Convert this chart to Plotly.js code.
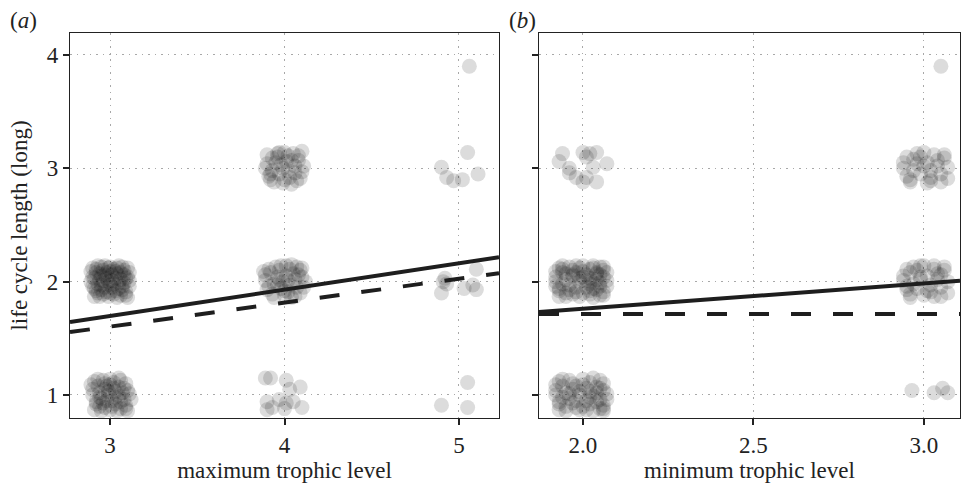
<!DOCTYPE html>
<html>
<head>
<meta charset="utf-8">
<script src="https://cdn.plot.ly/plotly-3.0.1.min.js"></script>
<style>html,body{margin:0;padding:0;background:#fff;}#chart{width:961px;height:486px;}</style>
</head>
<body>
<div id="chart"></div>
<script>
// ---------- Panel (a): maximum trophic level vs life cycle length (jittered points) ----------
const a_3_2 = [[2.90,2.12],[2.95,2.05],[3.02,1.98],[3.08,2.10],[2.93,1.90],[3.00,2.13],[3.06,1.88],[2.97,1.95],[3.11,2.01],[2.89,2.00],
[3.04,2.07],[2.92,2.08],[2.99,1.87],[3.07,1.96],[2.95,2.13],[3.10,2.12],[2.91,1.94],[3.03,1.92],[2.98,2.03],[3.05,2.14],
[2.94,1.87],[3.09,1.91],[2.96,2.10],[3.01,2.06],[2.90,2.04],[3.06,2.02],[2.93,1.98],[3.00,1.90],[3.08,2.06],[2.97,2.14],
[3.02,2.11],[2.92,1.92],[3.11,1.96],[2.99,2.00],[3.04,1.86],[2.89,2.09],[3.07,2.13],[2.95,1.97],[3.01,1.95],[3.10,2.04],
[2.94,2.02],[3.05,1.99],[2.91,1.87],[2.98,2.08],[3.03,2.03],[3.09,1.88],[2.96,1.89],[3.00,2.09],[3.06,2.08],[2.93,2.14],
[3.02,1.89],[2.90,1.96],[3.08,1.99],[2.97,2.06],[3.04,2.12],[2.95,1.93],[3.11,2.08],[2.99,2.12],[3.07,1.93],[2.92,2.11],
[3.01,2.01],[2.94,2.07],[3.05,1.94],[2.98,1.91],[3.10,1.86],[2.91,2.03],[3.03,2.09],[2.96,2.01],[3.09,2.03],[3.00,1.97]];
const a_3_1 = [[2.91,1.12],[2.97,1.05],[3.03,0.98],[3.09,1.10],[2.94,0.90],[3.00,1.14],[3.06,0.88],[2.98,0.95],[3.11,1.01],[2.90,1.00],
[3.05,1.07],[2.93,1.08],[3.00,0.87],[3.08,0.96],[2.96,1.13],[3.10,0.86],[2.92,0.94],[3.03,0.92],[2.99,1.03],[3.05,1.15],
[2.95,0.86],[3.09,0.91],[2.97,1.10],[3.02,1.06],[2.90,1.05],[3.07,1.02],[2.94,0.98],[3.01,0.90],[3.08,1.06],[2.97,0.89],
[3.02,1.11],[2.92,0.92],[3.12,0.96],[2.99,1.00],[3.04,0.86],[2.89,1.09],[3.06,1.13],[2.95,0.97],[3.01,0.95],[3.10,1.04],
[2.94,1.02],[3.05,0.99],[2.91,0.87],[2.98,1.08],[3.03,1.03],[3.09,0.88],[2.96,0.93],[3.00,1.09],[3.06,0.94],[2.93,1.14]];
const a_4_3 = [[3.90,3.12],[3.95,3.05],[4.02,2.98],[4.08,3.11],[3.92,2.90],[4.00,3.14],[4.07,2.89],[3.97,2.95],[4.11,3.02],[3.89,3.00],
[4.04,3.07],[3.93,3.09],[3.99,2.87],[4.06,2.96],[3.96,3.13],[4.10,3.15],[3.91,2.93],[4.03,2.92],[3.98,3.03],[4.05,3.13],
[3.94,2.88],[4.09,2.91],[3.96,3.10],[4.01,3.06],[3.90,3.04],[4.06,3.02],[3.93,2.98],[4.00,2.90],[4.08,3.07],[3.97,3.14],
[4.02,3.11],[3.92,2.95],[4.04,2.86],[3.99,3.00],[4.10,2.97]];
const a_4_2 = [[3.91,2.11],[3.96,2.04],[4.03,1.97],[4.09,2.10],[3.93,1.89],[4.01,2.14],[4.06,1.87],[3.98,1.94],[4.12,2.00],[3.89,2.01],
[4.05,2.07],[3.92,2.08],[4.00,1.88],[4.07,1.95],[3.95,2.13],[4.10,2.12],[3.90,1.93],[4.02,1.91],[3.97,2.02],[4.04,2.15],
[3.94,1.86],[4.09,1.90],[3.97,2.10],[4.01,2.05],[3.89,2.06],[4.06,2.02],[3.94,1.98],[4.00,1.92],[4.08,2.06],[3.98,2.14],
[4.03,2.11],[3.91,1.96],[4.11,1.95],[3.99,2.00],[4.04,1.86],[3.88,2.09],[4.07,2.13],[3.96,1.97],[4.02,2.01],[4.10,2.04]];
const a_4_1 = [[3.89,1.15],[3.92,1.15],[4.01,1.13],[4.09,1.07],[3.90,0.94],[3.93,0.89],[3.97,0.96],[4.01,0.93],[4.05,0.94],[4.10,0.89],
[4.00,0.88],[3.90,0.87],[4.03,1.05]];
const a_5_4 = [[5.06,3.90]];
const a_5_3 = [[4.90,3.01],[5.05,3.14],[4.93,2.92],[4.97,2.89],[5.02,2.90],[5.11,2.95]];
const a_5_2 = [[4.91,2.00],[4.90,1.90],[4.92,2.03],[4.93,1.98],[5.10,2.11],[5.03,1.94],[5.10,1.93],[5.08,1.97]];
const a_5_1 = [[5.05,1.11],[4.90,0.91],[5.05,0.89]];

// ---------- Panel (b): minimum trophic level vs life cycle length ----------
const b_2_3 = [[1.94,3.13],[1.93,3.06],[1.96,3.00],[2.00,3.14],[2.02,3.13],[2.04,3.14],[2.07,3.04],[1.96,2.96],[1.98,2.92],[2.00,2.88],
[2.04,2.88],[2.01,3.10],[2.01,2.92],[2.03,3.01]];
const b_2_2 = [[1.93,2.12],[1.97,2.05],[2.02,1.98],[2.06,2.10],[1.95,1.90],[2.00,2.14],[2.05,1.88],[1.98,1.95],[2.07,2.01],[1.92,2.00],
[2.04,2.07],[1.94,2.08],[1.99,1.87],[2.05,1.96],[1.96,2.13],[2.06,2.13],[1.93,1.94],[2.02,1.92],[1.99,2.03],[2.03,2.14],
[1.95,1.87],[2.06,1.91],[1.97,2.10],[2.01,2.06],[1.92,2.04],[2.04,2.02],[1.94,1.98],[2.00,1.90],[2.05,2.06],[1.98,2.14],
[2.02,2.11],[1.93,1.92],[2.07,1.96],[1.99,2.00],[2.03,1.86],[1.92,2.09],[2.05,2.13],[1.96,1.97],[2.01,1.95],[2.06,2.04],
[1.95,2.02],[2.03,1.99],[1.93,1.87],[1.98,2.08],[2.02,2.03],[2.06,1.88],[1.97,1.89],[2.00,2.09],[2.04,2.08],[1.94,2.14],
[2.02,1.89],[1.92,1.96],[2.05,1.99],[1.97,2.06],[2.03,2.12],[1.96,1.93],[2.07,2.08],[1.99,2.12],[2.04,1.93],[1.94,2.11],
[2.01,2.01],[1.95,2.07],[2.03,1.94],[1.98,1.91],[2.00,2.04]];
const b_2_1 = [[1.93,1.12],[1.97,1.05],[2.02,0.98],[2.06,1.10],[1.95,0.90],[2.00,1.14],[2.05,0.88],[1.98,0.95],[2.07,1.01],[1.92,1.00],
[2.04,1.07],[1.94,1.08],[1.99,0.87],[2.05,0.96],[1.96,1.13],[2.06,0.86],[1.93,0.94],[2.02,0.92],[1.99,1.03],[2.03,1.15],
[1.95,0.86],[2.06,0.91],[1.97,1.10],[2.01,1.06],[1.92,1.04],[2.04,1.02],[1.94,0.98],[2.00,0.90],[2.05,1.06],[1.98,0.89],
[2.02,1.11],[1.93,0.92],[2.07,0.96],[1.99,1.00],[2.03,0.86],[1.92,1.09],[2.05,1.13],[1.96,0.97],[2.01,0.95],[2.06,1.04],
[1.95,1.02],[2.03,0.99],[1.93,0.87],[1.98,1.08],[2.02,1.03],[2.06,0.88],[1.97,0.93],[2.00,1.09],[2.04,0.94],[1.94,1.14],
[2.01,0.87],[1.96,1.01]];
const b_3_4 = [[3.05,3.90]];
const b_3_3 = [[2.95,3.10],[2.98,3.04],[3.02,2.98],[3.06,3.09],[2.96,2.90],[3.00,3.14],[3.05,2.88],[2.99,2.95],[3.07,3.01],[2.94,3.00],
[3.04,3.07],[2.97,3.08],[3.01,2.87],[3.05,2.95],[2.98,3.13],[3.06,3.12],[2.95,2.93],[3.02,2.92],[3.00,3.02],[3.03,3.12],
[2.96,2.88],[3.07,2.91],[2.99,3.10],[3.01,3.05],[2.94,3.05],[3.04,3.02],[2.97,2.98],[3.02,2.89]];
const b_3_2 = [[2.95,2.11],[2.99,2.04],[3.02,1.97],[3.06,2.10],[2.96,1.89],[3.00,2.14],[3.05,1.87],[2.98,1.94],[3.07,2.00],[2.94,2.01],
[3.04,2.07],[2.96,2.08],[3.00,1.88],[3.05,1.95],[2.97,2.13],[3.06,2.13],[2.95,1.93],[3.02,1.91],[2.99,2.02],[3.03,2.14],
[2.96,1.86],[3.07,1.90],[2.98,2.10],[3.01,2.05],[2.94,2.05],[3.04,2.02],[2.97,1.98],[3.01,1.92],[3.05,2.06],[2.99,2.14],
[3.03,2.11],[2.95,1.96],[3.03,1.87]];
const b_3_1 = [[2.965,1.04],[3.03,1.02],[3.055,1.06],[3.07,1.02]];

// ---------- Fitted lines (endpoints at the axis limits) ----------
const fitA_solid_x = [2.77, 5.23], fitA_solid_y = [1.643, 2.216];
const fitA_dash_x  = [2.77, 5.23], fitA_dash_y  = [1.555, 2.075];
const fitB_solid_x = [1.871, 3.106], fitB_solid_y = [1.733, 2.007];
const fitB_dash_x  = [1.871, 3.106], fitB_dash_y  = [1.714, 1.714];

// ---------- Axis ticks ----------
const yTicks = [1, 2, 3, 4];
const xTicksA = [3, 4, 5];
const xTicksB = [2.0, 2.5, 3.0];
const xTickTextB = ['2.0', '2.5', '3.0'];

const ptsA = [].concat(a_3_2, a_3_1, a_4_3, a_4_2, a_4_1, a_5_4, a_5_3, a_5_2, a_5_1);
const ptsB = [].concat(b_2_3, b_2_2, b_2_1, b_3_4, b_3_3, b_3_2, b_3_1);

const marker = {size: 15, color: 'rgb(20,20,20)', opacity: 0.15, line: {width: 0}};
const font = '"Liberation Serif", "Times New Roman", serif';
const txt = '#222';

const traces = [
  {type: 'scatter', mode: 'markers', x: ptsA.map(p => p[0]), y: ptsA.map(p => p[1]), marker: marker, xaxis: 'x', yaxis: 'y', hoverinfo: 'x+y'},
  {type: 'scatter', mode: 'lines', x: fitA_solid_x, y: fitA_solid_y, line: {color: '#1e1e1e', width: 4}, xaxis: 'x', yaxis: 'y'},
  {type: 'scatter', mode: 'lines', x: fitA_dash_x, y: fitA_dash_y, line: {color: '#1e1e1e', width: 4, dash: '20px,22px'}, xaxis: 'x', yaxis: 'y'},
  {type: 'scatter', mode: 'markers', x: ptsB.map(p => p[0]), y: ptsB.map(p => p[1]), marker: marker, xaxis: 'x2', yaxis: 'y2', hoverinfo: 'x+y'},
  {type: 'scatter', mode: 'lines', x: fitB_solid_x, y: fitB_solid_y, line: {color: '#1e1e1e', width: 4}, xaxis: 'x2', yaxis: 'y2'},
  {type: 'scatter', mode: 'lines', x: fitB_dash_x, y: fitB_dash_y, line: {color: '#1e1e1e', width: 4, dash: '20px,22px'}, xaxis: 'x2', yaxis: 'y2'}
];

const axisCommon = {
  showline: true, mirror: true, linecolor: '#222', linewidth: 1.3,
  ticks: 'outside', ticklen: 6, tickwidth: 1.5, tickcolor: '#222',
  showgrid: true, gridcolor: '#a8a8a8', gridwidth: 1, griddash: '1.5px,5px',
  zeroline: false, automargin: false,
  tickfont: {family: font, size: 23, color: txt}
};

const yDomain = [1 - 418/486, 1 - 33/486];
const titleFont = {family: font, size: 23, color: txt};

const layout = {
  width: 961, height: 486,
  margin: {l: 0, r: 0, t: 0, b: 0},
  paper_bgcolor: '#fff', plot_bgcolor: '#fff',
  showlegend: false,
  font: {family: font, color: txt},
  xaxis: Object.assign({}, axisCommon, {
    domain: [70/961, 499/961], range: [2.77, 5.23], anchor: 'y',
    tickvals: xTicksA,
    title: {text: 'maximum trophic level', font: titleFont, standoff: 4}
  }),
  yaxis: Object.assign({}, axisCommon, {
    domain: yDomain, range: [0.797, 4.194], anchor: 'x',
    tickvals: yTicks,
    title: {text: 'life cycle length (long)', font: titleFont, standoff: 12}
  }),
  xaxis2: Object.assign({}, axisCommon, {
    domain: [539/961, 960/961], range: [1.871, 3.106], anchor: 'y2',
    tickvals: xTicksB, ticktext: xTickTextB,
    title: {text: 'minimum trophic level', font: titleFont, standoff: 4}
  }),
  yaxis2: Object.assign({}, axisCommon, {
    domain: yDomain, range: [0.797, 4.194], anchor: 'x2',
    tickvals: yTicks, showticklabels: false
  }),
  annotations: [
    {text: '(<i>a</i>)', xref: 'paper', yref: 'paper', x: 8/961, y: 1 - 20/486, xanchor: 'left', yanchor: 'middle', showarrow: false, font: {family: font, size: 23, color: txt}},
    {text: '(<i>b</i>)', xref: 'paper', yref: 'paper', x: 507/961, y: 1 - 20/486, xanchor: 'left', yanchor: 'middle', showarrow: false, font: {family: font, size: 23, color: txt}}
  ]
};

Plotly.newPlot('chart', traces, layout, {displayModeBar: false, responsive: false});
</script>
</body>
</html>
